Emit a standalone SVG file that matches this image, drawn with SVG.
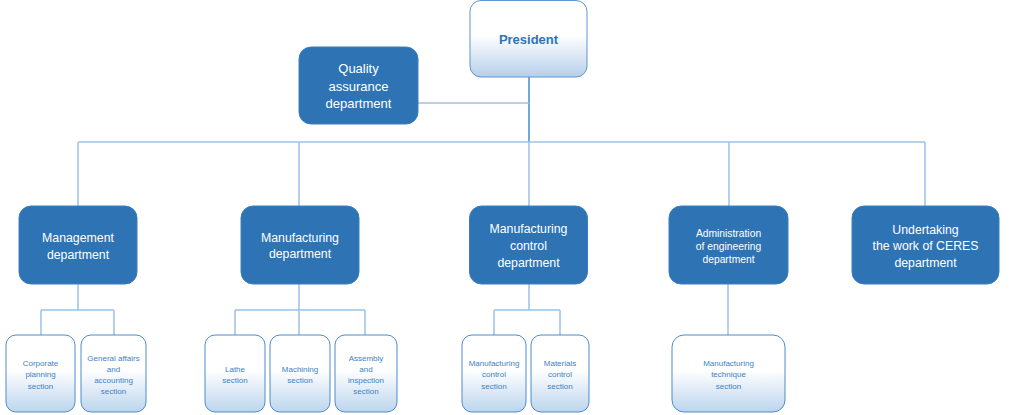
<svg xmlns="http://www.w3.org/2000/svg" width="1030" height="415" viewBox="0 0 1030 415">
<defs>
<linearGradient id="gp" x1="0" y1="0" x2="0" y2="1">
<stop offset="0" stop-color="#ffffff"/>
<stop offset="0.45" stop-color="#ffffff"/>
<stop offset="1" stop-color="#b6cfea"/>
</linearGradient>
<linearGradient id="gs" x1="0" y1="0" x2="0" y2="1">
<stop offset="0" stop-color="#ffffff"/>
<stop offset="0.45" stop-color="#ffffff"/>
<stop offset="1" stop-color="#bcd5ee"/>
</linearGradient>
</defs>
<style>
.conn{fill:none;stroke:#9cc2e6;stroke-width:1.5}
.stem{fill:none;stroke:#6fa8dc;stroke-width:2}
.dept{fill:#2e74b5;stroke:#3a7fc0;stroke-width:1}
.sec{fill:url(#gs);stroke:#4f8ccb;stroke-width:1}
.pres{fill:url(#gp);stroke:#5d95d0;stroke-width:1}
text{font-family:"Liberation Sans",Arial,sans-serif;text-anchor:middle}
.dt{fill:#ffffff;font-size:12.3px}
.st{fill:#3f7fc3;font-size:8px}
.pt{fill:#2e74b5;font-size:13px;font-weight:bold}
</style>
<g id="connectors">
<path class="stem" d="M529 77 V142"/>
<path class="conn" d="M418 103 H529"/>
<path class="conn" d="M78 142 H925"/>
<path class="conn" d="M78 142 V206 M299 142 V206 M529 142 V206 M729 142 V206 M925 142 V206"/>
<path class="conn" d="M78 284 V310 M41 310 H114 M41 310 V335 M114 310 V335"/>
<path class="conn" d="M299 284 V335 M235 310 H365 M235 310 V335 M365 310 V335"/>
<path class="conn" d="M529 284 V310 M494 310 H560 M494 310 V335 M560 310 V335"/>
<path class="conn" d="M728 284 V335"/>
</g>
<g id="president">
<rect class="pres" x="470" y="0.5" width="117" height="76.5" rx="11"/>
<text class="pt" x="528.5" y="44">President</text>
</g>
<g id="quality">
<rect class="dept" x="299" y="47" width="119" height="77" rx="12"/>
<text class="dt" font-size="13px" x="358.5" y="72.5" style="font-size:13px">Quality</text>
<text class="dt" x="358.5" y="91" style="font-size:13px">assurance</text>
<text class="dt" x="358.5" y="108" style="font-size:13px">department</text>
</g>
<g id="management">
<rect class="dept" x="19" y="206" width="118" height="78" rx="12"/>
<text class="dt" x="78" y="242">Management</text>
<text class="dt" x="78" y="258.5">department</text>
</g>
<g id="manufacturing">
<rect class="dept" x="241" y="206" width="118" height="78" rx="12"/>
<text class="dt" x="300" y="241.5">Manufacturing</text>
<text class="dt" x="300" y="258">department</text>
</g>
<g id="mfgcontrol">
<rect class="dept" x="469.5" y="206" width="118" height="78" rx="12"/>
<text class="dt" x="528.5" y="232.5">Manufacturing</text>
<text class="dt" x="528.5" y="249.5">control</text>
<text class="dt" x="528.5" y="266.5">department</text>
</g>
<g id="admin">
<rect class="dept" x="669" y="206" width="119" height="78" rx="12"/>
<text class="dt" x="728.5" y="236.5" style="font-size:10.3px">Administration</text>
<text class="dt" x="728.5" y="250" style="font-size:10.3px">of engineering</text>
<text class="dt" x="728.5" y="263" style="font-size:10.3px">department</text>
</g>
<g id="undertaking">
<rect class="dept" x="852" y="206" width="147" height="78" rx="12"/>
<text class="dt" x="925.5" y="233.5">Undertaking</text>
<text class="dt" x="925.5" y="250">the work of CERES</text>
<text class="dt" x="925.5" y="266.5">department</text>
</g>
<g id="corporate">
<rect class="sec" x="6" y="335" width="69" height="77" rx="10"/>
<text class="st" x="40.5" y="366">Corporate</text>
<text class="st" x="40.5" y="377">planning</text>
<text class="st" x="40.5" y="389">section</text>
</g>
<g id="general">
<rect class="sec" x="81" y="335" width="65" height="77" rx="10"/>
<text class="st" x="113.5" y="361">General  affairs</text>
<text class="st" x="113.5" y="372">and</text>
<text class="st" x="113.5" y="383">accounting</text>
<text class="st" x="113.5" y="394">section</text>
</g>
<g id="lathe">
<rect class="sec" x="205" y="335" width="60" height="77" rx="10"/>
<text class="st" x="235" y="372">Lathe</text>
<text class="st" x="235" y="383">section</text>
</g>
<g id="machining">
<rect class="sec" x="270" y="335" width="60" height="77" rx="10"/>
<text class="st" x="300" y="372">Machining</text>
<text class="st" x="300" y="383">section</text>
</g>
<g id="assembly">
<rect class="sec" x="335" y="335" width="62" height="77" rx="10"/>
<text class="st" x="366" y="361">Assembly</text>
<text class="st" x="366" y="372">and</text>
<text class="st" x="366" y="383">inspection</text>
<text class="st" x="366" y="394">section</text>
</g>
<g id="mcsection">
<rect class="sec" x="462" y="335" width="64" height="77" rx="10"/>
<text class="st" x="494" y="366">Manufacturing</text>
<text class="st" x="494" y="377">control</text>
<text class="st" x="494" y="389">section</text>
</g>
<g id="materials">
<rect class="sec" x="531" y="335" width="58" height="77" rx="10"/>
<text class="st" x="560" y="366">Materials</text>
<text class="st" x="560" y="377">control</text>
<text class="st" x="560" y="389">section</text>
</g>
<g id="technique">
<rect class="sec" x="672" y="335" width="113" height="77" rx="12"/>
<text class="st" x="728.5" y="366">Manufacturing</text>
<text class="st" x="728.5" y="377">technique</text>
<text class="st" x="728.5" y="389">section</text>
</g>
</svg>
